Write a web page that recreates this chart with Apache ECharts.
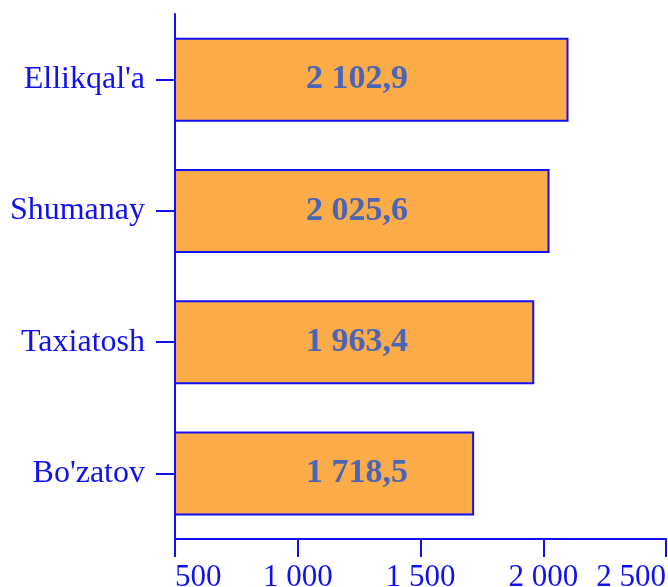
<!DOCTYPE html>
<html>
<head>
<meta charset="utf-8">
<style>
  html, body { margin: 0; padding: 0; background: #ffffff; }
  #chart { width: 668px; height: 587px; }
</style>
<script src="https://cdn.jsdelivr.net/npm/echarts@6/dist/echarts.min.js"></script>
</head>
<body>
<div id="chart"></div>
<script>
// tumanlar va qiymatlar (pastdan yuqoriga)
var categories = ["Bo'zatov", 'Taxiatosh', 'Shumanay', "Ellikqal'a"];
var values = [1718.5, 1963.4, 2025.6, 2102.9];

var blue = '#1010f0';
var font = '"Liberation Serif", "Times New Roman", serif';

// 2102.9 -> "2 102,9", 1000 -> "1 000"
function fmt(v, dec) {
  var s = v.toFixed(dec).split('.');
  var int = s[0].replace(/\B(?=(\d{3})+(?!\d))/g, ' ');
  return s.length > 1 ? int + ',' + s[1] : int;
}

var chart = echarts.init(document.getElementById('chart'));
chart.setOption({
  backgroundColor: '#ffffff',
  animation: false,
  grid: { left: 175, right: 2, top: 14, bottom: 48, containLabel: false, outerBoundsMode: 'none' },
  xAxis: {
    type: 'value',
    min: 500,
    max: 2500,
    interval: 500,
    axisLine: { show: true, lineStyle: { color: blue, width: 2 } },
    axisTick: { show: true, inside: false, length: 18, lineStyle: { color: blue, width: 2 } },
    splitLine: { show: false },
    axisLabel: {
      color: blue,
      fontFamily: font,
      fontSize: 31,
      margin: 23,
      alignMinLabel: 'left',
      alignMaxLabel: 'right',
      formatter: function (v) { return fmt(v, 0); }
    }
  },
  yAxis: {
    type: 'category',
    data: categories,
    axisLine: { show: true, lineStyle: { color: blue, width: 2 } },
    axisTick: { show: true, length: 19, alignWithLabel: true, lineStyle: { color: blue, width: 2 } },
    axisLabel: {
      color: blue,
      fontFamily: font,
      fontSize: 32,
      margin: 30
    }
  },
  series: [{
    type: 'bar',
    data: values,
    barWidth: 84,
    itemStyle: { color: '#fbab48', borderColor: blue, borderWidth: 2 },
    label: {
      show: true,
      position: [183, '50%'],
      align: 'center',
      verticalAlign: 'middle',
      color: '#4a64b6',
      fontFamily: font,
      fontSize: 34,
      fontWeight: 'bold',
      formatter: function (p) { return fmt(p.value, 1); }
    }
  }]
});
</script>
</body>
</html>
